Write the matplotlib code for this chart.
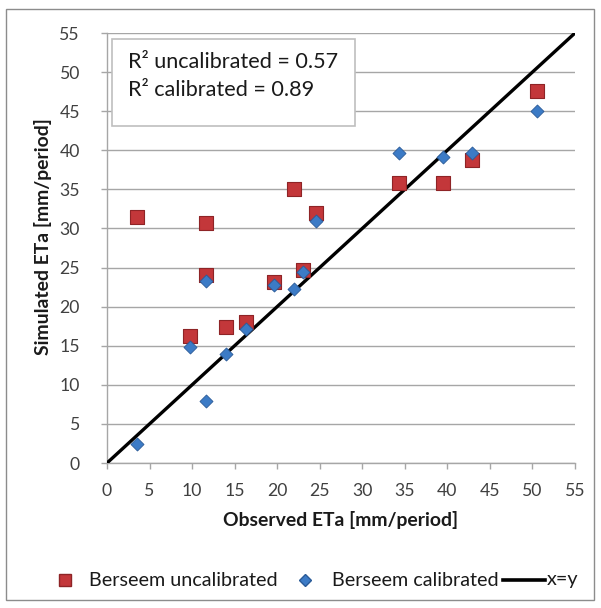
import matplotlib
matplotlib.use("Agg")
import matplotlib.pyplot as plt
from matplotlib.patches import Rectangle
from matplotlib.lines import Line2D

plt.rcParams['font.family'] = ['Lato', 'DejaVu Sans']

observed = [3.5, 9.8, 11.6, 11.6, 14.0, 16.3, 19.6, 22.0, 23.0, 24.6, 34.3, 39.5, 42.9, 50.5]
uncalibrated = [31.5, 16.3, 24.1, 30.7, 17.4, 18.0, 23.1, 35.0, 24.7, 32.0, 35.8, 35.8, 38.7, 47.6]
calibrated = [2.4, 14.9, 23.3, 7.9, 13.9, 17.1, 22.8, 22.3, 24.4, 31.0, 39.6, 39.2, 39.7, 45.0]
ticks = list(range(0, 60, 5))
identity = [0, 55]
series_labels = ['Berseem uncalibrated', 'Berseem calibrated', 'x=y']
r2_lines = ['R² uncalibrated = 0.57', 'R² calibrated = 0.89']

W, H = 601, 608
fig = plt.figure(figsize=(W / 100, H / 100), dpi=100)
renderer = fig.canvas.get_renderer()


def fit(text, target_px, weight='normal'):
    t = fig.text(0, 0, text, fontsize=10, fontweight=weight)
    w = t.get_window_extent(renderer).width
    t.remove()
    return 10 * target_px / w


def fx(px):
    return px / W


def fy(py):
    return 1 - py / H


RED, RED_E = '#C3373A', '#8E2426'
BLUE, BLUE_E = '#3C7BC6', '#2A5A97'

# outer chart border
fig.patches.append(Rectangle((fx(6), fy(600)), (594 - 6) / W, (600 - 9) / H,
                             transform=fig.transFigure, fill=False,
                             edgecolor='#8C8C8C', linewidth=1.0))

ax = fig.add_axes([fx(107), fy(463), (575 - 107) / W, (463 - 33) / H])
ax.set_xlim(0, 55)
ax.set_ylim(0, 55)
ax.set_xticks(ticks)
ax.set_yticks(ticks)
ax.grid(axis='y', color='#A6A6A6', linewidth=1.0)
ax.set_axisbelow(True)
for s in ['top', 'right']:
    ax.spines[s].set_visible(False)
for s in ['left', 'bottom']:
    ax.spines[s].set_color('#A6A6A6')
    ax.spines[s].set_linewidth(1.0)

tick_fs = fit('10', 20.5)
ax.tick_params(axis='both', colors='#A6A6A6', labelcolor='#404040',
               labelsize=tick_fs, length=4.5, width=1.0, direction='out')
ax.tick_params(axis='x', pad=10)
ax.tick_params(axis='y', pad=15)

ax.plot(identity, identity, color='black', linewidth=2.4, zorder=3)
ax.scatter(observed, uncalibrated, marker='s', s=92, color=RED,
           edgecolor=RED_E, linewidth=0.8, zorder=4)
ax.scatter(observed, calibrated, marker='D', s=44, color=BLUE,
           edgecolor=BLUE_E, linewidth=0.6, zorder=5)

title_fs = fit('Simulated ETa [mm/period]', 237, 'bold')
fig.text(fx(341), fy(520), 'Observed ETa [mm/period]', fontsize=title_fs,
         fontweight='bold', ha='center', va='center', color='#1A1A1A')
fig.text(fx(43), fy(237), 'Simulated ETa [mm/period]', fontsize=title_fs,
         fontweight='bold', ha='center', va='center', rotation=90, color='#1A1A1A')

# R2 text box
fig.patches.append(Rectangle((fx(112), fy(126)), (355 - 112) / W, (126 - 39) / H,
                             transform=fig.transFigure, facecolor='white',
                             edgecolor='#BFBFBF', linewidth=1.2, zorder=10))
box_fs = fit(r2_lines[0], 210)
fig.text(fx(128), fy(62), r2_lines[0], fontsize=box_fs,
         va='center', ha='left', color='#1A1A1A', zorder=11)
fig.text(fx(128), fy(90), r2_lines[1], fontsize=box_fs,
         va='center', ha='left', color='#1A1A1A', zorder=11)

# legend (drawn as figure-level keys)
leg_fs = fit(series_labels[0], 189)
ly = fy(580)
fig.add_artist(Line2D([fx(65)], [ly], marker='s', markersize=9, color=RED,
                      markeredgecolor=RED_E, linestyle='none',
                      transform=fig.transFigure))
fig.text(fx(89), ly, series_labels[0], fontsize=leg_fs, va='center', ha='left',
         color='#1A1A1A')
fig.add_artist(Line2D([fx(305)], [ly], marker='D', markersize=6.5, color=BLUE,
                      markeredgecolor=BLUE_E, linestyle='none',
                      transform=fig.transFigure))
fig.text(fx(332), ly, series_labels[1], fontsize=leg_fs, va='center', ha='left',
         color='#1A1A1A')
fig.add_artist(Line2D([fx(503), fx(545)], [ly, ly], color='black', linewidth=2.6,
                      transform=fig.transFigure))
fig.text(fx(547), ly, series_labels[2], fontsize=leg_fs, va='center', ha='left',
         color='#1A1A1A')

fig.savefig('out.png', dpi=100)
